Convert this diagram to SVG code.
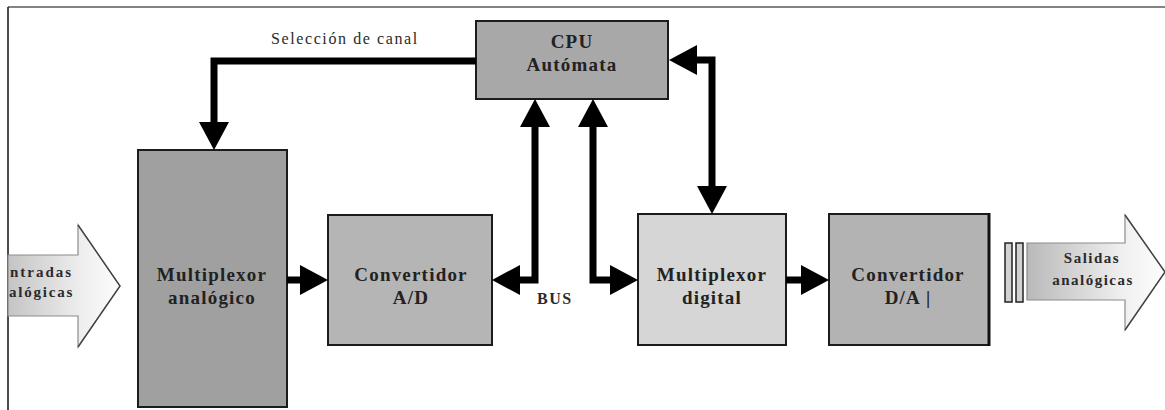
<svg xmlns="http://www.w3.org/2000/svg" width="1165" height="410" viewBox="0 0 1165 410">
  <style>
    .box { stroke: #1c1c1c; stroke-width: 2; }
    .lbl { font-family: "Liberation Serif", "Times New Roman", serif; font-weight: bold; font-size: 19px; letter-spacing: 1.2px; fill: #222; text-anchor: middle; }
    .small { font-family: "Liberation Serif", "Times New Roman", serif; font-size: 15px; letter-spacing: 1.5px; fill: #2a2a2a; }
    .bold { font-weight: bold; }
    .wire { fill: none; stroke: #000; stroke-width: 7; stroke-linejoin: miter; stroke-linecap: butt; }
    .big { stroke: #8c8c8c; stroke-width: 1.2; }
    .head { fill: none; stroke: #444; stroke-width: 1.4; }
  </style>
  <defs>
    <marker id="tri" markerUnits="userSpaceOnUse" markerWidth="28" markerHeight="30" viewBox="0 0 28 30" refX="0" refY="15" orient="auto-start-reverse">
      <path d="M0,0 L28,15 L0,30 Z" fill="#000"/>
    </marker>
    <linearGradient id="fadeIn" x1="0" y1="0" x2="1" y2="0">
      <stop offset="0" stop-color="#c4c4c4"/>
      <stop offset="0.65" stop-color="#eeeeee"/>
      <stop offset="1" stop-color="#fdfdfd"/>
    </linearGradient>
    <linearGradient id="fadeOut" x1="0" y1="0" x2="1" y2="0">
      <stop offset="0" stop-color="#b9b9b9"/>
      <stop offset="0.7" stop-color="#f0f0f0"/>
      <stop offset="1" stop-color="#fdfdfd"/>
    </linearGradient>
  </defs>

  <rect width="1165" height="410" fill="#fff"/>

  <!-- page frame -->
  <line x1="8" y1="7" x2="1165" y2="7" stroke="#5a5a5a" stroke-width="1.5"/>
  <line x1="8" y1="7" x2="8" y2="410" stroke="#111" stroke-width="1.5"/>

  <!-- input block arrow -->
  <g id="entradas">
    <polygon class="big" points="8,255 78,255 78,225 120,286 78,347 78,316 8,316" fill="url(#fadeIn)"/>
    <polyline class="head" points="78,225 120,286 78,347"/>
    <text class="small bold" x="10" y="277" style="letter-spacing:2px">ntradas</text>
    <text class="small bold" x="9" y="297" style="letter-spacing:1.8px">alógicas</text>
  </g>

  <!-- CPU -->
  <g id="cpu">
    <rect class="box" x="476" y="21" width="192" height="78" fill="#a8a8a8"/>
    <text class="lbl" x="572" y="48">CPU</text>
    <text class="lbl" x="572" y="71">Autómata</text>
  </g>

  <!-- analog multiplexer -->
  <g id="mux-analogico">
    <rect class="box" x="138" y="150" width="149" height="257" fill="#a0a0a0"/>
    <text class="lbl" x="212" y="281">Multiplexor</text>
    <text class="lbl" x="212" y="304">analógico</text>
  </g>

  <!-- A/D converter -->
  <g id="conv-ad">
    <rect class="box" x="328" y="215" width="164" height="130" fill="#b5b5b5"/>
    <text class="lbl" x="411" y="281">Convertidor</text>
    <text class="lbl" x="411" y="304">A/D</text>
  </g>

  <!-- digital multiplexer -->
  <g id="mux-digital">
    <rect class="box" x="638" y="214" width="148" height="131" fill="#d6d6d6"/>
    <text class="lbl" x="712" y="281">Multiplexor</text>
    <text class="lbl" x="712" y="304">digital</text>
  </g>

  <!-- D/A converter -->
  <g id="conv-da">
    <rect class="box" x="829" y="214" width="160" height="131" fill="#b3b3b3"/>
    <line x1="989" y1="213" x2="989" y2="346" stroke="#111" stroke-width="3"/>
    <text class="lbl" x="908" y="281">Convertidor</text>
    <text class="lbl" x="908" y="304">D/A |</text>
  </g>

  <!-- output block arrow -->
  <g id="salidas">
    <rect x="1005" y="243" width="7" height="59" fill="#d2d2d2" stroke="#222" stroke-width="1.5"/>
    <rect x="1016" y="243" width="7" height="59" fill="#d2d2d2" stroke="#222" stroke-width="1.5"/>
    <polygon class="big" points="1027,243 1125,243 1125,215 1165,272 1125,330 1125,300 1027,300" fill="url(#fadeOut)"/>
    <polyline class="head" points="1125,215 1165,272 1125,330"/>
    <text class="small bold" x="1092" y="263" text-anchor="middle">Salidas</text>
    <text class="small bold" x="1093" y="285" text-anchor="middle">analógicas</text>
  </g>

  <!-- connectors -->
  <g id="connectors">
    <path class="wire" d="M476,61 H214 V122" marker-end="url(#tri)"/>
    <path class="wire" d="M287,280 H300" marker-end="url(#tri)"/>
    <path class="wire" d="M535,127 V280 H520" marker-start="url(#tri)" marker-end="url(#tri)"/>
    <path class="wire" d="M593,127 V280 H610" marker-start="url(#tri)" marker-end="url(#tri)"/>
    <path class="wire" d="M697,60 H712 V186" marker-start="url(#tri)" marker-end="url(#tri)"/>
    <path class="wire" d="M786,280 H801" marker-end="url(#tri)"/>
  </g>

  <!-- labels on connectors -->
  <text class="small" x="271" y="44" style="font-size:16px;letter-spacing:1.6px">Selección de canal</text>
  <text class="small bold" x="537" y="304" style="font-size:16px;letter-spacing:1.5px">BUS</text>
</svg>
